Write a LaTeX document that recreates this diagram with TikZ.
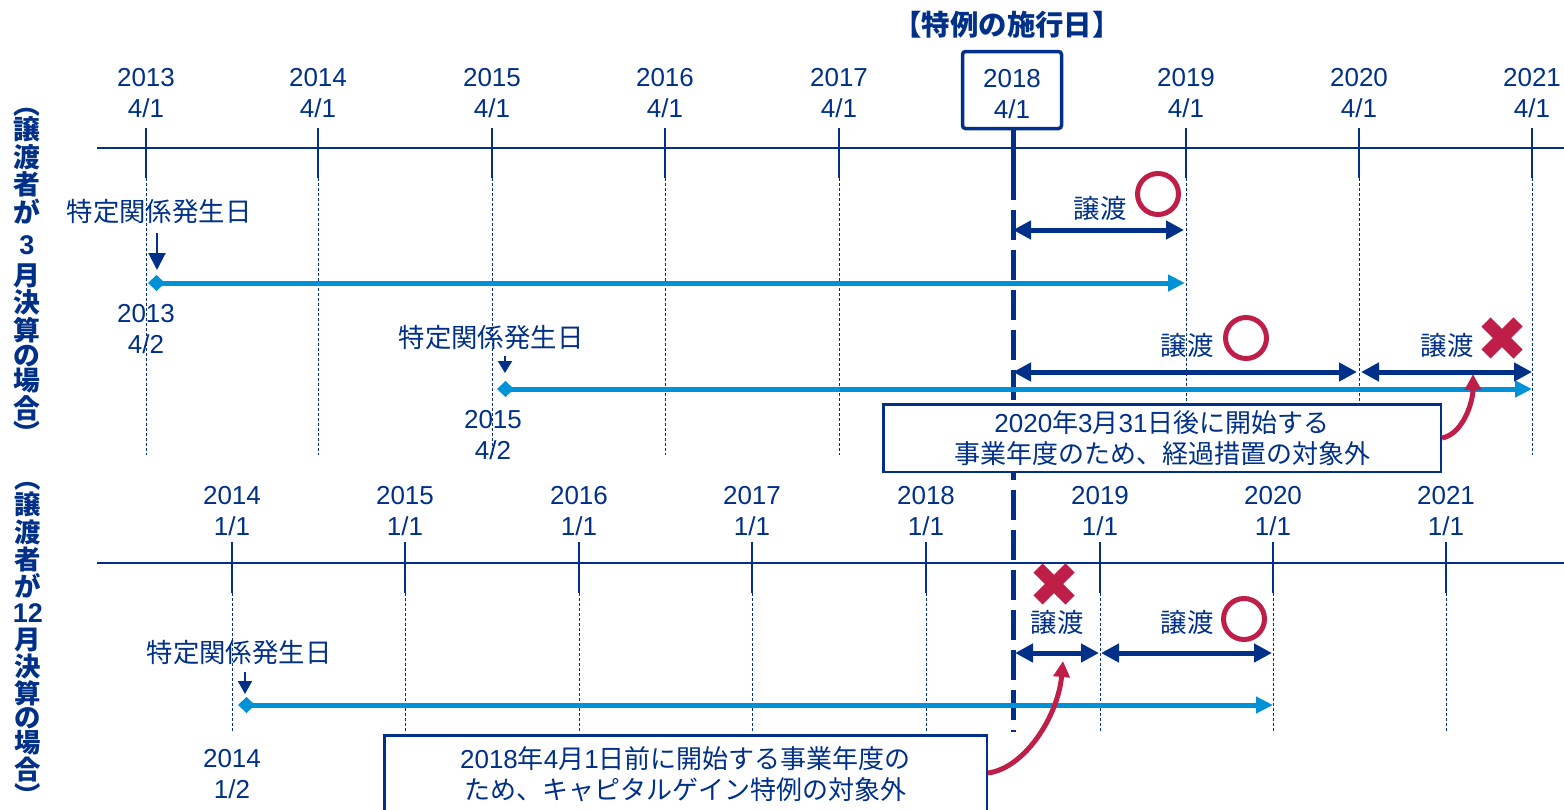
\documentclass[tikz,border=0pt]{standalone}
\usepackage{fontspec}
\setmainfont{Liberation Sans}
\newfontfamily\jp{Noto Sans CJK JP}
\usetikzlibrary{arrows.meta}
\definecolor{navy}{RGB}{0,48,135}
\definecolor{lightblue}{RGB}{0,146,214}
\definecolor{crimson}{RGB}{190,30,72}
\begin{document}
\begin{tikzpicture}[x=0.5pt,y=-0.5pt,
  axis/.style={navy, line width=1.25pt},
  tickline/.style={navy, line width=1.25pt},
  guide/.style={navy, line width=0.5pt, dash pattern=on 1.5pt off 1pt},
  yearlbl/.style={text=navy, align=center, inner sep=0pt, font=\fontsize{13}{15.5}\selectfont},
  jplbl/.style={text=navy, inner sep=0pt, font=\jp\fontsize{13.2}{15.5}\selectfont},
  vlbl/.style={text=navy, align=center, inner sep=0pt, font=\jp\bfseries\fontsize{13.4}{12.6}\selectfont},
  period/.style={navy, line width=2.5pt, {Triangle[length=9pt,width=9pt]}-{Triangle[length=9pt,width=9pt]}},
  span/.style={lightblue, line width=2.5pt, {Diamond[length=8.5pt,width=8pt]}-{Triangle[length=8.5pt,width=8pt]}},
  pointer/.style={navy, line width=1pt, -{Triangle[length=7pt,width=7pt]}},
  note/.style={draw=navy, line width=1.25pt, fill=white, align=center, inner sep=0pt,
     font=\fontsize{13}{15.5}\selectfont, text=navy},
  callout/.style={crimson, line width=2.5pt, -{Triangle[length=8pt,width=8pt]}},
  okmark/.style={circle, draw=crimson, line width=2.5pt, minimum size=20.5pt, inner sep=0pt},
  ngstroke/.style={crimson, line width=6.5pt, line cap=butt},
  effective/.style={navy, line width=2.5pt, dash pattern=on 15pt off 5pt},
]
\useasboundingbox (0,0) rectangle (1564,809);

% ---------------- top timeline (March year-end) ----------------
\coordinate (tl) at (97,148);
\coordinate (tr) at (1564,148);
\draw[axis] (tl) -- (tr);
\foreach \x/\yr in {146/2013,318/2014,492/2015,665/2016,839/2017,1186/2019,1359/2020,1532/2021}{
  \coordinate (tt\yr) at (\x,128);
  \coordinate (tm\yr) at (\x,178);
  \coordinate (tb\yr) at (\x,455);
  \draw[tickline] (tt\yr) -- (tm\yr);
  \draw[guide] (tm\yr) -- (tb\yr);
  \node[yearlbl] (ty\yr) at (\x,93.5) {\yr\\4/1};
}
% bottom timeline (December year-end)
\coordinate (bl) at (97,563);
\coordinate (br) at (1564,563);
\draw[axis] (bl) -- (br);
\foreach \x/\yr in {232/2014,405/2015,579/2016,752/2017,926/2018,1100/2019,1273/2020,1446/2021}{
  \coordinate (bt\yr) at (\x,542);
  \coordinate (bm\yr) at (\x,593);
  \coordinate (bb\yr) at (\x,733);
  \draw[tickline] (bt\yr) -- (bm\yr);
  \draw[guide] (bm\yr) -- (bb\yr);
  \node[yearlbl] (by\yr) at (\x,511.5) {\yr\\1/1};
}

% effective date
\node[text=navy, font=\jp\bfseries\fontsize{14.2}{16}\selectfont, inner sep=0pt] (title) at (1007,25) {【特例の施行日】};
\coordinate (effend) at (1013,732);
\draw[tickline, line width=2.5pt] (1013,130) -- (1013,178);
\draw[effective] (1013,130) -- (effend);
\node[draw=navy, line width=1.75pt, rounded corners=1.5pt, fill=white,
      minimum width=49.5pt, minimum height=38.5pt, inner sep=0pt] (eff) at (1012,90) {};
\node[yearlbl] (efflbl) at (1012,94) {2018\\4/1};

% side labels
\node[vlbl] (side1) at (27,276) {︵\\譲\\渡\\者\\が\\[3pt]{\rmfamily\bfseries\fontsize{13.5}{12.6}\selectfont 3}\\[3pt]月\\決\\算\\の\\場\\合\\︶};
\node[vlbl, font=\jp\bfseries\fontsize{13.2}{12.1}\selectfont] (side2) at (28,644) {︵\\譲\\渡\\者\\が\\[1pt]{\rmfamily\bfseries\fontsize{13.5}{12.1}\selectfont 12}\\[1pt]月\\決\\算\\の\\場\\合\\︶};

% ---------------- row 1 ----------------
\node[jplbl] (rel1) at (159,212) {特定関係発生日};
\coordinate (p1a) at (157,233);
\coordinate (p1b) at (157,270);
\draw[pointer, -{Triangle[length=8.5pt,width=8.5pt]}] (p1a) -- (p1b);
\coordinate (s1a) at (148,283);
\coordinate (s1b) at (1185,283);
\draw[span] (s1a) -- (s1b);
\node[yearlbl] (d1) at (146,329) {2013\\4/2};
\coordinate (a1a) at (1013,230);
\coordinate (a1b) at (1184,230);
\draw[period] (a1a) -- (a1b);
\node[jplbl] (t1) at (1100,208) {譲渡};
\node[okmark] (ok1) at (1158,194) {};

% ---------------- row 2 ----------------
\node[jplbl] (rel2) at (491,338) {特定関係発生日};
\coordinate (p2a) at (505,356);
\coordinate (p2b) at (505,373);
\draw[pointer, -{Triangle[length=6pt,width=7pt]}] (p2a) -- (p2b);
\coordinate (s2a) at (497,389);
\coordinate (s2b) at (1532,389);
\draw[span] (s2a) -- (s2b);
\node[yearlbl] (d2) at (493,435.5) {2015\\4/2};
\coordinate (a2a) at (1013,372);
\coordinate (a2b) at (1357,372);
\coordinate (a2c) at (1361,372);
\coordinate (a2d) at (1532,372);
\draw[period] (a2a) -- (a2b);
\draw[period] (a2c) -- (a2d);
\node[jplbl] (t2) at (1187,345) {譲渡};
\node[okmark] (ok2) at (1246,338) {};
\node[jplbl] (t3) at (1447,345) {譲渡};
\draw[ngstroke] (1502,338) ++(-16,-16) -- ++(32,32);
\draw[ngstroke] (1502,338) ++(16,-16) -- ++(-32,32);

\node[note, minimum width=278.75pt, minimum height=33.75pt] (note1) at (1162,438)
  {2020{\jp 年}3{\jp 月}31{\jp 日後に開始する}\\{\jp 事業年度のため、経過措置の対象外}};
\coordinate (tipA) at (1473,374);
\draw[callout] (note1.east) .. controls (1463,434) and (1473,402) .. (tipA);

% ---------------- bottom row ----------------
\node[jplbl] (rel3) at (239,653) {特定関係発生日};
\coordinate (p3a) at (245,672);
\coordinate (p3b) at (245,694);
\draw[pointer, -{Triangle[length=6.5pt,width=7pt]}] (p3a) -- (p3b);
\coordinate (s3a) at (238,705);
\coordinate (s3b) at (1273,705);
\draw[span] (s3a) -- (s3b);
\node[yearlbl] (d3) at (232,774) {2014\\1/2};
\coordinate (a3a) at (1015,653);
\coordinate (a3b) at (1099,653);
\coordinate (a3c) at (1101,653);
\coordinate (a3d) at (1272,653);
\draw[period] (a3a) -- (a3b);
\draw[period] (a3c) -- (a3d);
\node[jplbl] (t4) at (1057,622) {譲渡};
\draw[ngstroke] (1054,584) ++(-16,-16) -- ++(32,32);
\draw[ngstroke] (1054,584) ++(16,-16) -- ++(-32,32);
\node[jplbl] (t5) at (1187,622) {譲渡};
\node[okmark] (ok3) at (1244,619) {};

\node[note, minimum width=301.25pt, minimum height=38.75pt] (note2) at (685.5,774)
  {2018{\jp 年}4{\jp 月}1{\jp 日前に開始する事業年度の}\\{\jp ため、キャピタルゲイン特例の対象外}};
\coordinate (noteBout) at (988,773);
\coordinate (tipB) at (1063,661);
\draw[callout] (noteBout) .. controls (1025,768) and (1058,716) .. (tipB);
\end{tikzpicture}
\end{document}
